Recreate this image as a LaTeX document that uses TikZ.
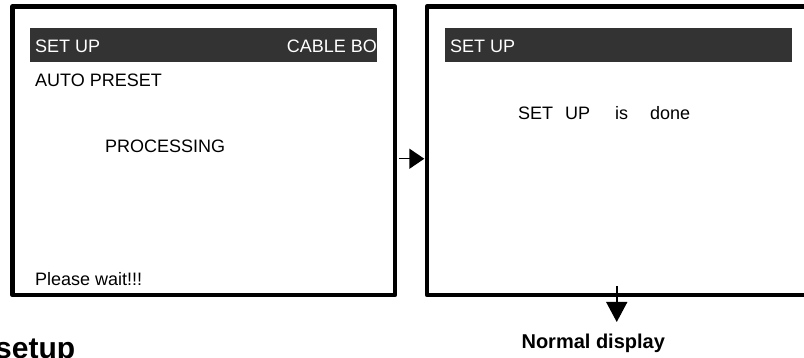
\documentclass[tikz,border=0pt]{standalone}
\usepackage{fontspec}
\setmainfont{Liberation Sans}
\usepackage{tikz}
\usetikzlibrary{positioning, arrows.meta}
\definecolor{bardark}{RGB}{51,51,51}

\begin{document}
\begin{tikzpicture}[x=1pt, y=1pt]
    \tikzset{
        screen/.style={
                draw=black, line width=4.5pt, line join=round, minimum width=382.5pt, minimum height=288.5pt, inner sep=0pt, outer sep=0pt
            },
        title bar/.style={
                fill=bardark, minimum width=347pt, minimum height=34pt, inner sep=0pt, outer sep=0pt
            },
        screen text/.style={
                font=\fontsize{18}{21}\selectfont, inner sep=0pt
            },
        bar text/.style={screen text, text=white},
        flow arrow/.style={line width=1.5pt},
        caption/.style={
                font=\fontsize{20}{24}\selectfont\bfseries, inner sep=0pt
            }
    }
    \useasboundingbox (0,0) rectangle (804,358);
    \clip (0,0) rectangle (804,358);

    % --- left screen: auto preset running ---
    \node[screen] (preset) at (203.75, 207.25) {};
    \node[title bar, below right=21.5pt and 17.5pt of preset.north west] (bar1) {};
    \node[bar text, anchor=base west] (bar1l) at ([shift={(5,-8)}]bar1.west) {SET UP};
    \node[bar text, anchor=base east] (bar1r) at ([shift={(0,-8)}]bar1.east) {CABLE BO};
    \node[screen text, anchor=base west] (autopreset) at ([shift={(22.5,-80.5)}]preset.north west) {AUTO PRESET};
    \node[screen text, anchor=base west] (processing) at ([shift={(92.5,-146.5)}]preset.north west) {PROCESSING};
    \node[screen text, anchor=base west] (wait) at ([shift={(22.5,-279.5)}]preset.north west) {Please wait!!!};

    % --- right screen: set up done ---
    \node[screen, right=32pt of preset] (done) {};
    \node[title bar, below right=21.5pt and 18pt of done.north west] (bar2) {};
    \node[bar text, anchor=base west] (bar2l) at ([shift={(5,-8)}]bar2.west) {SET UP};
    \node[screen text, anchor=base west] (msg) at ([shift={(91,-113.5)}]done.north west) {SET\hspace{12pt}UP\hspace{25pt}is\hspace{22pt}done};

    % --- arrows and captions ---
    \draw[flow arrow, -{Triangle[length=15pt, width=20pt]}, shorten <=4pt, shorten >=2.7pt] ([yshift=-8]preset.east) -- ([yshift=-8]done.west);
    \coordinate (disptip) at ([shift={(-1.5,-27)}]done.south);
    \draw[flow arrow, -{Triangle[length=20pt, width=21pt]}] ([shift={(-1.5,9)}]done.south) -- (disptip);
    \node[caption, anchor=base] (normal) at ([shift={(-25,-54)}]done.south) {Normal display};
    \node[caption, font=\fontsize{30}{36}\selectfont\bfseries, anchor=base west] (title) at (-5,-1) {setup};
\end{tikzpicture}
\end{document}
